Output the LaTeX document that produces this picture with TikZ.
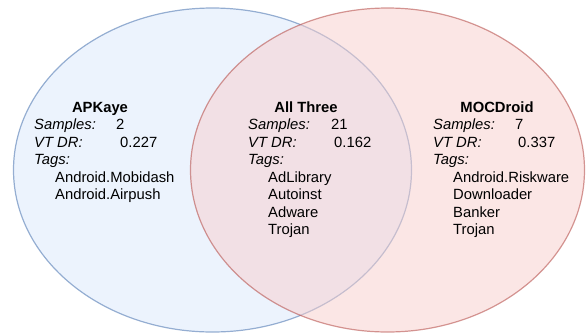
\documentclass[tikz,border=0pt]{standalone}
\usepackage{fontspec}
\setmainfont{Liberation Sans}
\definecolor{blueFill}{HTML}{DAE8FC}
\definecolor{blueLine}{HTML}{6C8EBF}
\definecolor{redFill}{HTML}{F8CECC}
\definecolor{redLine}{HTML}{B85450}
\begin{document}
\begin{tikzpicture}[x=1pt,y=-1pt,
	every node/.style={inner sep=0pt, anchor=base west, font=\fontsize{14.8}{17}\selectfont},
	title/.style={anchor=base, font=\fontsize{14.8}{17}\selectfont\bfseries},
	lbl/.style={font=\fontsize{14.8}{17}\selectfont\itshape}]
	\useasboundingbox (0,0) rectangle (586,333);
	
	% the two sets
	\draw[blueLine, draw opacity=0.7, fill=blueFill, fill opacity=0.5, line width=1.2pt] (212.5,170) ellipse[x radius=199, y radius=162];
	\draw[redLine, draw opacity=0.6, fill=redFill, fill opacity=0.5, line width=1.2pt] (387.5,170) ellipse[x radius=197, y radius=162];
	
	% APKaye only
	\node[title] (apkTitle) at (100,112.5){APKaye};
	\node[lbl] (apkSamples) at (34,129.5){Samples:};
	\node (apkSamplesVal) at (116,129.5){2};
	\node[lbl] (apkDR) at (34,147){VT DR:};
	\node (apkDRVal) at (120,147){0.227};
	\node[lbl] (apkTags) at (34,164.5){Tags:};
	\node (apkTagA) at (55,182){Android.Mobidash};
	\node (apkTagB) at (55,199.5){Android.Airpush};
	
	% intersection
	\node[title] (allTitle) at (306,112.5){All Three};
	\node[lbl] (allSamples) at (248,129.5){Samples:};
	\node (allSamplesVal) at (331,129.5){21};
	\node[lbl] (allDR) at (248,147){VT DR:};
	\node (allDRVal) at (334,147){0.162};
	\node[lbl] (allTags) at (248,164.5){Tags:};
	\node (allTagA) at (268,182){AdLibrary};
	\node (allTagB) at (268,199.5){Autoinst};
	\node (allTagC) at (268,217){Adware};
	\node (allTagD) at (268,234.5){Trojan};
	
	% MOCDroid only
	\node[title] (mocTitle) at (497,112.5){MOCDroid};
	\node[lbl] (mocSamples) at (433,129.5){Samples:};
	\node (mocSamplesVal) at (515,129.5){7};
	\node[lbl] (mocDR) at (433,147){VT DR:};
	\node (mocDRVal) at (518,147){0.337};
	\node[lbl] (mocTags) at (433,164.5){Tags:};
	\node (mocTagA) at (453,182){Android.Riskware};
	\node (mocTagB) at (453,199.5){Downloader};
	\node (mocTagC) at (453,217){Banker};
	\node (mocTagD) at (453,234.5){Trojan};
\end{tikzpicture}
\end{document}
